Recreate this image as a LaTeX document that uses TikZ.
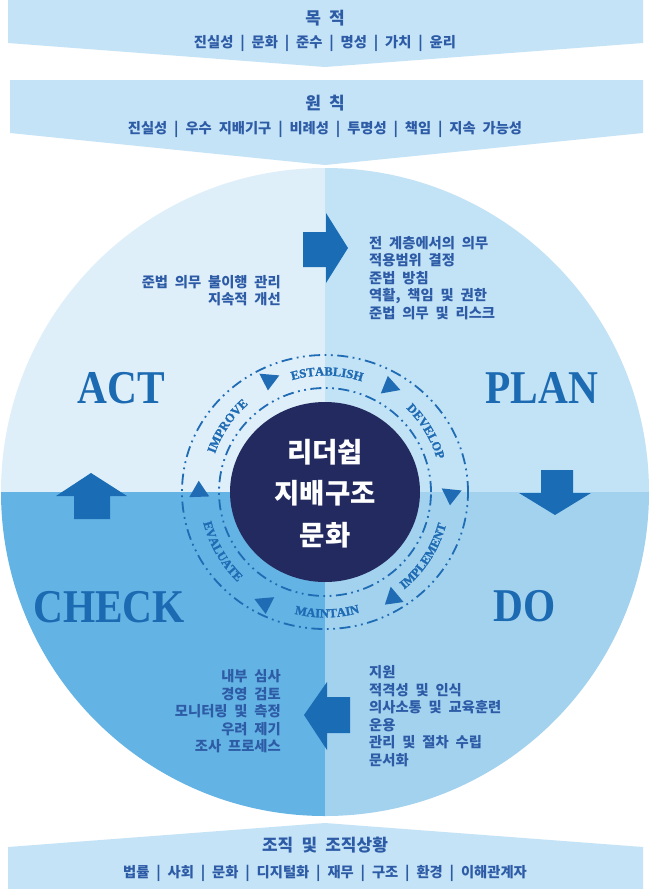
\documentclass[tikz,border=0pt]{standalone}
\usepackage{fontspec}
\usepackage{graphicx}
\usetikzlibrary{decorations.text}
\newfontfamily\kr[WordSpace=2.1]{Noto Sans CJK KR}
\newfontfamily\serifb{Liberation Serif}
\newfontfamily\lblserif[BoldFeatures={FakeBold=1.5}]{Liberation Serif}
\newcommand\lblfont{\lblserif\bfseries\fontsize{12.5}{12.5}\selectfont}
\definecolor{banner}{HTML}{C4E3F6}
\definecolor{qtl}{HTML}{DEEFFA}
\definecolor{qtr}{HTML}{C2E2F6}
\definecolor{qbl}{HTML}{63B3E4}
\definecolor{qbr}{HTML}{A3D2EF}
\definecolor{arrowblue}{HTML}{1A6CB5}
\definecolor{pdcablue}{HTML}{1B6AB2}
\definecolor{txtblue}{HTML}{2D5BA6}
\definecolor{navy}{HTML}{222A5F}
\definecolor{ringblue}{HTML}{1F6CB4}
\tikzset{
  ttl/.style={font=\kr\bfseries\fontsize{17}{18}\selectfont, text=txtblue, inner sep=0pt, anchor=base},
  subl/.style={font=\kr\bfseries\fontsize{14.3}{16}\selectfont, text=txtblue, inner sep=0pt, anchor=base},
  qtext/.style={font=\kr\bfseries\fontsize{14.3}{16}\selectfont, text=txtblue, inner sep=0pt},
  pdca/.style={font=\serifb\bfseries\fontsize{47}{47}\selectfont, text=pdcablue, inner sep=0pt, anchor=base},
  core/.style={font=\kr\bfseries\fontsize{27.5}{30}\selectfont, text=white, inner sep=0pt, anchor=base},
  ring/.style={draw=ringblue, line width=1.8pt, dash pattern=on 11pt off 4.5pt on 1.8pt off 4.5pt on 1.8pt off 4.5pt},
  tri/.style={fill=ringblue},
  bigarrow/.style={fill=arrowblue},
  ringlabel/.style={decorate, decoration={text along path, text align=center, text color=ringblue, text={|\lblfont|#1}}}
}
\begin{document}
\begin{tikzpicture}[x=1pt,y=-1pt]
\useasboundingbox (0,0) rectangle (650,889);
\fill[white] (0,0) rectangle (650,889);

% banners
\fill[banner] (8,0) -- (643,0) -- (643,43) -- (325,67) -- (8,43) -- cycle;
\fill[banner] (10,80) -- (643,80) -- (643,133) -- (325,165) -- (10,133) -- cycle;
\fill[banner] (8,847) -- (325,823) -- (643,847) -- (643,889) -- (8,889) -- cycle;

% quadrant circle
\begin{scope}
  \clip (325,492) circle[radius=324pt];
  \fill[qtl] (0,160) rectangle (325,492);
  \fill[qtr] (325,160) rectangle (650,492);
  \fill[qbl] (0,492) rectangle (325,820);
  \fill[qbr] (325,492) rectangle (650,820);
\end{scope}

% big arrows
\fill[bigarrow] (303,232) -- (326,232) -- (326,213) -- (348,248) -- (326,283) -- (326,267) -- (303,267) -- cycle;
\fill[bigarrow] (541,470) -- (573,470) -- (573,493) -- (591,493) -- (555,515) -- (519,493) -- (541,493) -- cycle;
\fill[bigarrow] (350,697) -- (327,697) -- (327,682) -- (304,715) -- (327,750) -- (327,733) -- (350,733) -- cycle;
\fill[bigarrow] (74,519) -- (74,496) -- (56,496) -- (91,473) -- (127,496) -- (110,496) -- (110,519) -- cycle;

% PDCA words
\node[pdca] (act) at (121,403) {\scalebox{0.88}[1]{ACT}};
\node[pdca] (plan) at (542,403) {\scalebox{0.88}[1]{PLAN}};
\node[pdca] (check) at (109,622) {\scalebox{0.88}[1]{CHECK}};
\node[pdca] (do) at (525,621) {\scalebox{0.88}[1]{DO}};

% centre rings
\begin{scope}[shift={(325,492)}]
  \fill[navy] (0,0) ellipse[x radius=95pt, y radius=90pt];
  \draw[ring] (0,0) ellipse[x radius=143pt, y radius=137pt];
  \draw[ring] (0,0) ellipse[x radius=106pt, y radius=104pt];
  \path[ringlabel=IMPROVE] (181:116.5pt) arc[start angle=181, end angle=111, radius=116.5pt];
  \path[ringlabel=ESTABLISH] (124:116.5pt) arc[start angle=124, end angle=54, radius=116.5pt];
  \path[ringlabel=DEVELOP] (66:116.5pt) arc[start angle=66, end angle=-4, radius=116.5pt];
  \path[ringlabel=EVALUATE] (175:125.5pt) arc[start angle=175, end angle=245, radius=125.5pt];
  \path[ringlabel=MAINTAIN] (236:125.5pt) arc[start angle=236, end angle=306, radius=125.5pt];
  \path[ringlabel=IMPLEMENT] (292:125.5pt) arc[start angle=292, end angle=362, radius=125.5pt];
  \foreach \a/\r/\p in {117/124/-95, 59/125/100, -2/126/-96, -58/126/-140, -118/128/-85, 179/126/92}
    \fill[tri, shift={(\a:\r pt)}, rotate=\p] (9pt,0pt) -- (-7pt,10pt) -- (-7pt,-10pt) -- cycle;
\end{scope}
\node[core] (c1) at (325,462) {리더쉽};
\node[core] (c2) at (325,503) {지배구조};
\node[core] (c3) at (325,545) {문화};

% banner texts
\node[ttl] (t1) at (325,24) {목 적};
\node[subl] (s1) at (325,47) {진실성 | 문화 | 준수 | 명성 | 가치 | 윤리};
\node[ttl] (t2) at (325,109) {원 칙};
\node[subl] (s2) at (325,133) {진실성 | 우수 지배기구 | 비례성 | 투명성 | 책임 | 지속 가능성};
\node[ttl] (t3) at (325,851) {조직 및 조직상황};
\node[subl] (s3) at (325,877) {법률 | 사회 | 문화 | 디지털화 | 재무 | 구조 | 환경 | 이해관계자};

% quadrant texts
\foreach \t [count=\i from 0] in {전 계층에서의 의무,적용범위 결정,준법 방침,{역활, 책임 및 권한},준법 의무 및 리스크}
  \node[qtext, anchor=base west] (tr\i) at (369,248+17.6*\i) {\t};
\foreach \t [count=\i from 0] in {준법 의무 불이행 관리,지속적 개선}
  \node[qtext, anchor=base east] (tl\i) at (281,287+17*\i) {\t};
\foreach \t [count=\i from 0] in {내부 심사,경영 검토,모니터링 및 측정,우려 제기,조사 프로세스}
  \node[qtext, anchor=base east] (bl\i) at (281,681.5+17.5*\i) {\t};
\foreach \t [count=\i from 0] in {지원,적격성 및 인식,의사소통 및 교육훈련,운용,관리 및 절차 수립,문서화}
  \node[qtext, anchor=base west] (br\i) at (369,677.5+17.6*\i) {\t};
\end{tikzpicture}
\end{document}
